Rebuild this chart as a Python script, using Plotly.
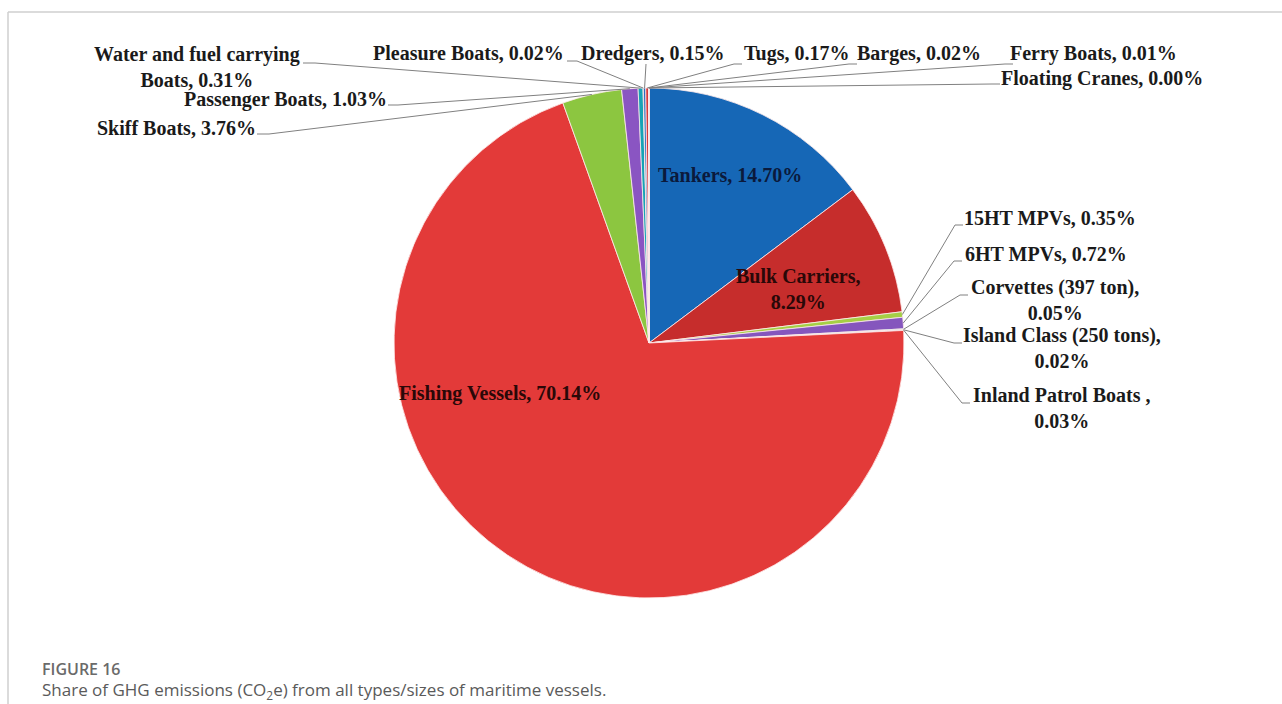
import math
import plotly.graph_objects as go

# ---------------- data ----------------
categories = [
    "Tankers", "Bulk Carriers", "15HT MPVs", "6HT MPVs", "Corvettes (397 ton)",
    "Island Class (250 tons)", "Inland Patrol Boats ", "Fishing Vessels", "Skiff Boats",
    "Passenger Boats", "Water and fuel carrying Boats", "Pleasure Boats", "Dredgers",
    "Tugs", "Barges", "Ferry Boats", "Floating Cranes",
]
shares = [14.70, 8.29, 0.35, 0.72, 0.05, 0.02, 0.03, 70.14, 3.76,
          1.03, 0.31, 0.02, 0.15, 0.17, 0.02, 0.01, 0.00]
label_texts = [
    "Tankers, 14.70%", "Bulk Carriers,<br>8.29%", "15HT MPVs, 0.35%", "6HT MPVs, 0.72%",
    "Corvettes (397 ton),<br>0.05%", "Island Class (250 tons),<br>0.02%",
    "Inland Patrol Boats ,<br>0.03%", "Fishing Vessels, 70.14%", "Skiff Boats, 3.76%",
    "Passenger Boats, 1.03%", "Water and fuel carrying<br>Boats, 0.31%",
    "Pleasure Boats, 0.02%", "Dredgers, 0.15%", "Tugs, 0.17%", "Barges, 0.02%",
    "Ferry Boats, 0.01%", "Floating Cranes, 0.00%",
]
slice_colors = [
    "#1667b6", "#c62d2c", "#a5cf45", "#8556bd", "#1ea7b8", "#f0962e", "#2f6fc0",
    "#e33a39", "#8cc640", "#8a55c2", "#17a3b5", "#f0962e", "#2a6cc0",
    "#d8383a", "#8cc640", "#8a55c2", "#17a3b5",
]

# ---------------- layout geometry (pixels) ----------------
W, H = 1282, 704
CX, CY, R = 649, 343, 255

def px(x):
    return x / W

def py(y):
    return 1 - y / H

# label placement: text centre (x, y), leader anchor (x, y), elbow offset (dx); None = inside
label_pos = [
    (730, 175, None, None, 0),
    (798, 289, None, None, 0),
    (1050, 218, 963, 225, -8),
    (1046, 254, 962, 261, -8),
    (1055, 300, 968, 295, -8),
    (1062, 348, 962, 343, -8),
    (1061, 408, 970, 403, -8),
    (500, 393, None, None, 0),
    (176, 128, 257, 134, 12),
    (285, 99, 388, 105, 10),
    (197, 67, 303, 63, 12),
    (468, 53, 567, 61, 10),
    (653, 53, 646, 64, 0),
    (796, 53, 742, 64, -8),
    (919, 53, 857, 64, -8),
    (1093, 53, 1013, 64, -8),
    (1102, 78, 1000, 84, -8),
]

fig = go.Figure()
fig.add_trace(go.Pie(
    labels=categories,
    values=shares,
    sort=False,
    direction="clockwise",
    rotation=0,
    textinfo="none",
    hoverinfo="label+percent",
    marker=dict(colors=slice_colors, line=dict(color="rgba(255,235,235,0.8)", width=1)),
    domain=dict(x=[px(CX - R), px(CX + R)], y=[py(CY + R), py(CY - R)]),
    showlegend=False,
))

total = sum(shares)
cum = 0.0
shapes = []
annotations = []
text_colors = {0: "#0b1a3c", 1: "#2a0808", 7: "#2a0808"}
for i, v in enumerate(shares):
    theta = (cum + v / 2) / total * 2 * math.pi
    cum += v
    sx = CX + R * math.sin(theta)
    sy = CY - R * math.cos(theta)
    tx, ty, ax, ay, edx = label_pos[i]
    annotations.append(dict(
        x=px(tx), y=py(ty), xref="paper", yref="paper",
        text="<b>" + label_texts[i] + "</b>", showarrow=False,
        xanchor="center", yanchor="middle", align="center",
        font=dict(family="Liberation Serif", size=20, color=text_colors.get(i, "#1a1a1a")),
    ))
    if ax is not None:
        ex = ax + edx
        path = f"M {px(ax)},{py(ay)} L {px(ex)},{py(ay)} L {px(sx)},{py(sy)}"
        shapes.append(dict(type="path", xref="paper", yref="paper", path=path,
                           line=dict(color="#808080", width=1)))

# page frame
shapes.append(dict(type="line", xref="paper", yref="paper", x0=px(8), x1=1, y0=py(12), y1=py(12),
                   line=dict(color="#cfcfcf", width=1.5)))
shapes.append(dict(type="line", xref="paper", yref="paper", x0=px(8), x1=px(8), y0=py(12), y1=0,
                   line=dict(color="#cfcfcf", width=1.5)))

annotations.append(dict(x=px(40), y=py(669), xref="paper", yref="paper", text="FIGURE 16",
                        showarrow=False, xanchor="left", yanchor="middle",
                        font=dict(family="Open Sans", size=16, color="#6a6a6a", weight=600)))
annotations.append(dict(x=px(40), y=py(690), xref="paper", yref="paper",
                        text="Share of GHG emissions (CO<sub>2</sub>e) from all types/sizes of maritime vessels.",
                        showarrow=False, xanchor="left", yanchor="middle",
                        font=dict(family="Open Sans", size=17, color="#5a5a5a")))

fig.update_layout(
    width=W, height=H,
    margin=dict(l=0, r=0, t=0, b=0),
    paper_bgcolor="white", plot_bgcolor="white",
    shapes=shapes, annotations=annotations,
)
fig.write_html("out.html")
